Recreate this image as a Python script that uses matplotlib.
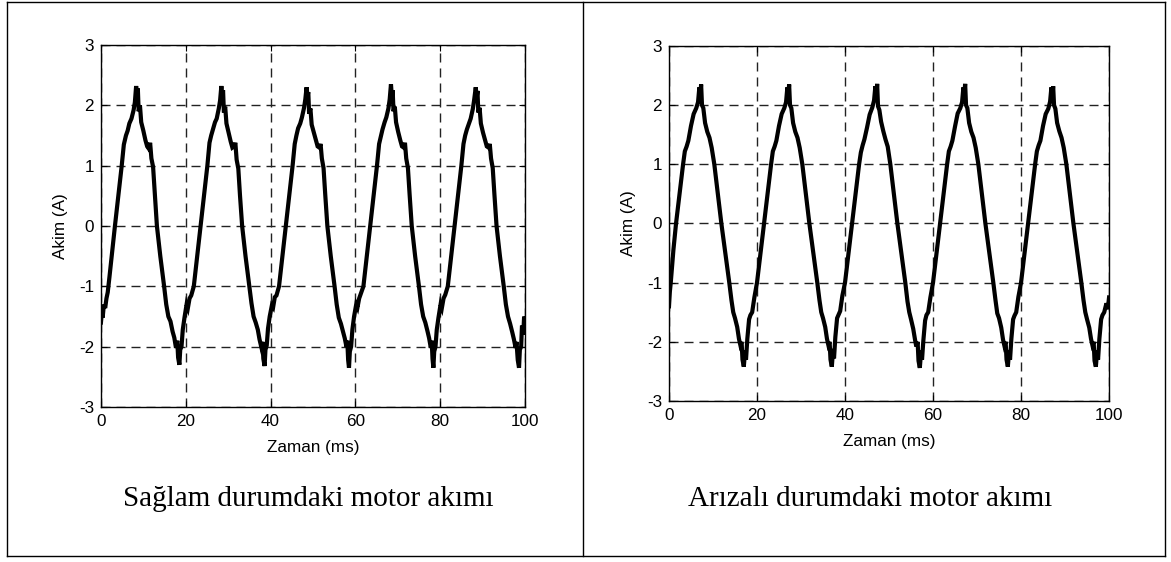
# Sağlam ve arızalı durumdaki motor akımı (iki panel, tablo görünümünde)
import matplotlib.pyplot as plt
from matplotlib.lines import Line2D

# --- veriler (resimden okunan yaklaşık değerler) ---
# Sağlam durum: zaman (ms) ve akım (A)
t_saglam = [
    0.0, 0.2, 0.4, 0.7, 1.0, 1.3, 1.6, 2.0, 2.6, 3.3, 4.1, 4.9, 5.4, 5.9, 6.3, 6.7, 7.2, 7.7, 8.0, 8.3,
    8.5, 8.7, 8.9, 9.2, 9.5, 10.0, 10.5, 10.9, 11.3, 11.6, 11.9, 12.3, 12.7, 13.2, 14.0, 14.9, 15.4, 15.9,
    16.4, 16.9, 17.3, 17.7, 18.0, 18.2, 18.5, 18.7, 19.0, 19.3, 19.7, 20.2, 20.5, 20.9, 21.3, 21.9, 22.7,
    23.5, 24.3, 25.1, 25.6, 26.0, 26.4, 26.9, 27.3, 27.8, 28.1, 28.4, 28.6, 28.8, 29.0, 29.3, 29.6, 30.1,
    30.6, 31.0, 31.4, 31.7, 32.0, 32.4, 32.8, 33.3, 34.1, 35.0, 35.5, 36.0, 36.5, 37.0, 37.4, 37.8, 38.1,
    38.3, 38.6, 38.8, 39.1, 39.4, 39.8, 40.3, 40.6, 41.0, 41.4, 42.0, 42.8, 43.6, 44.4, 45.2, 45.7, 46.1,
    46.5, 47.0, 47.4, 47.9, 48.2, 48.5, 48.7, 48.9, 49.1, 49.4, 49.7, 50.2, 50.7, 51.1, 51.5, 51.8, 52.1,
    52.5, 52.9, 53.4, 54.2, 55.1, 55.6, 56.1, 56.6, 57.1, 57.5, 57.9, 58.1, 58.3, 58.5, 58.7, 59.0, 59.3,
    59.7, 60.2, 60.5, 60.9, 61.3, 61.9, 62.7, 63.5, 64.3, 65.1, 65.6, 66.0, 66.4, 66.9, 67.3, 67.8, 68.1,
    68.4, 68.6, 68.8, 69.0, 69.3, 69.6, 70.1, 70.6, 71.0, 71.4, 71.7, 72.0, 72.4, 72.8, 73.3, 74.1, 75.0,
    75.5, 76.0, 76.5, 77.0, 77.4, 77.8, 78.0, 78.2, 78.4, 78.6, 78.9, 79.2, 79.6, 80.1, 80.4, 80.8, 81.2,
    81.8, 82.6, 83.4, 84.2, 85.0, 85.5, 85.9, 86.3, 86.8, 87.2, 87.7, 88.0, 88.4, 88.6, 88.8, 89.0, 89.3,
    89.6, 90.1, 90.6, 91.0, 91.4, 91.7, 92.0, 92.4, 92.8, 93.3, 94.1, 95.0, 95.5, 96.0, 96.5, 97.0, 97.4,
    97.8, 98.0, 98.3, 98.6, 98.8, 99.1, 99.3, 99.6, 99.8, 100.0]
i_saglam = [
    -1.60, -1.45, -1.52, -1.30, -1.36, -1.20, -1.10, -0.85, -0.45, 0.00, 0.50, 1.00, 1.35, 1.50, 1.58, 1.70,
    1.78, 1.92, 2.05, 2.32, 2.15, 2.28, 1.90, 2.00, 1.72, 1.58, 1.42, 1.32, 1.28, 1.38, 1.12, 0.98, 0.55,
    0.00, -0.50, -1.00, -1.30, -1.50, -1.58, -1.75, -1.85, -2.02, -1.90, -2.18, -2.30, -2.05, -2.00, -1.72,
    -1.52, -1.30, -1.36, -1.20, -1.15, -1.00, -0.50, 0.00, 0.50, 1.00, 1.38, 1.50, 1.60, 1.72, 1.78, 1.95,
    2.08, 2.32, 2.12, 2.25, 1.88, 1.98, 1.70, 1.55, 1.40, 1.30, 1.32, 1.38, 1.10, 0.95, 0.50, 0.00, -0.50,
    -1.00, -1.28, -1.50, -1.60, -1.72, -1.88, -2.00, -1.92, -2.20, -2.32, -2.05, -1.98, -1.70, -1.50, -1.32,
    -1.35, -1.18, -1.15, -1.00, -0.50, 0.00, 0.50, 1.00, 1.36, 1.50, 1.62, 1.70, 1.80, 1.96, 2.10, 2.30,
    2.15, 2.22, 1.86, 1.95, 1.68, 1.55, 1.42, 1.32, 1.30, 1.36, 1.12, 0.96, 0.52, 0.00, -0.50, -1.00, -1.30,
    -1.52, -1.62, -1.75, -1.86, -2.00, -1.90, -2.22, -2.35, -2.08, -2.00, -1.72, -1.50, -1.30, -1.35, -1.20,
    -1.12, -1.00, -0.50, 0.00, 0.50, 1.00, 1.36, 1.48, 1.60, 1.72, 1.80, 1.95, 2.10, 2.35, 2.15, 2.25, 1.90,
    1.98, 1.72, 1.56, 1.42, 1.32, 1.30, 1.38, 1.12, 0.96, 0.52, 0.00, -0.50, -1.00, -1.30, -1.50, -1.60,
    -1.74, -1.86, -2.02, -1.90, -2.20, -2.35, -2.08, -2.00, -1.72, -1.52, -1.30, -1.36, -1.20, -1.14, -1.00,
    -0.50, 0.00, 0.50, 1.00, 1.36, 1.50, 1.60, 1.70, 1.78, 1.94, 2.08, 2.30, 2.12, 2.24, 1.88, 1.96, 1.70,
    1.55, 1.42, 1.32, 1.30, 1.36, 1.12, 0.96, 0.52, 0.00, -0.50, -1.00, -1.30, -1.50, -1.62, -1.76, -1.88,
    -2.02, -1.92, -2.22, -2.35, -2.05, -2.00, -1.65, -1.80, -1.50, -1.55]

# Arızalı durum: zaman (ms) ve akım (A)
t_arizali = [
    0.0, 0.2, 0.4, 1.0, 1.6, 2.4, 3.2, 3.6, 4.0, 4.4, 5.0, 5.6, 6.2, 6.6, 6.9, 7.1, 7.3, 7.5, 7.8, 8.2,
    8.7, 9.2, 9.7, 10.3, 11.1, 11.9, 12.8, 13.7, 14.2, 14.6, 15.0, 15.5, 15.9, 16.2, 16.5, 16.7, 17.0,
    17.3, 17.5, 17.8, 18.2, 18.5, 18.9, 19.4, 20.0, 20.8, 21.6, 22.4, 23.2, 23.6, 24.0, 24.4, 25.0, 25.6,
    26.2, 26.6, 26.9, 27.1, 27.3, 27.5, 27.8, 28.2, 28.7, 29.2, 29.7, 30.3, 31.1, 31.9, 32.8, 33.7, 34.2,
    34.6, 35.0, 35.5, 35.9, 36.2, 36.5, 36.7, 37.0,
    37.3, 37.5, 37.8, 38.2, 38.5, 38.9, 39.4, 40.0, 40.8, 41.6, 42.4, 43.2, 43.6, 44.0, 44.4, 45.0, 45.6,
    46.2, 46.6, 46.9, 47.1, 47.3, 47.5, 47.8, 48.2, 48.7, 49.2, 49.7, 50.3, 51.1, 51.9, 52.8, 53.7, 54.2,
    54.6, 55.0, 55.5, 55.9, 56.2, 56.5, 56.7, 57.0,
    57.3, 57.5, 57.8, 58.2, 58.5, 58.9, 59.4, 60.0, 60.8, 61.6, 62.4, 63.2, 63.6, 64.0, 64.4, 65.0, 65.6,
    66.2, 66.6, 66.9, 67.1, 67.3, 67.5, 67.8, 68.2, 68.7, 69.2, 69.7, 70.3, 71.1, 71.9, 72.8, 73.7, 74.2,
    74.6, 75.0, 75.5, 75.9, 76.2, 76.5, 76.7, 77.0,
    77.3, 77.5, 77.8, 78.2, 78.5, 78.9, 79.4, 80.0, 80.8, 81.6, 82.4, 83.2, 83.6, 84.0, 84.4, 85.0, 85.6,
    86.2, 86.6, 86.9, 87.1, 87.3, 87.5, 87.8, 88.2, 88.7, 89.2, 89.7, 90.3, 91.1, 91.9, 92.8, 93.7, 94.2,
    94.6, 95.0, 95.5, 95.9, 96.2, 96.5, 96.7, 97.0,
    97.3, 97.5, 97.8, 98.2, 98.5, 98.9, 99.4, 99.7, 100.0]
i_arizali = [
    -1.40, -1.15, -1.00, -0.45, 0.00, 0.50, 1.00, 1.22, 1.30, 1.40, 1.65, 1.85, 1.95, 2.05, 2.30, 2.15,
    2.35, 2.00, 1.95, 1.70, 1.55, 1.45, 1.28, 1.00, 0.50, 0.00, -0.50, -1.00, -1.30, -1.50, -1.60, -1.75,
    -1.95, -2.05, -2.00, -2.30, -2.42,
    -2.15, -2.30, -1.95, -1.62, -1.55, -1.50, -1.25, -1.00, -0.50, 0.00, 0.50, 1.00, 1.22, 1.30, 1.40,
    1.65, 1.85, 1.95, 2.05, 2.30, 2.15, 2.35, 2.00, 1.95, 1.70, 1.55, 1.45, 1.28, 1.00, 0.50, 0.00, -0.50,
    -1.00, -1.30, -1.50, -1.60, -1.75, -1.95, -2.05, -2.00, -2.30, -2.42,
    -2.12, -2.28, -1.92, -1.60, -1.55, -1.48, -1.22, -1.00, -0.50, 0.00, 0.50, 1.00, 1.20, 1.32, 1.42,
    1.62, 1.84, 1.96, 2.08, 2.32, 2.12, 2.36, 1.98, 1.92, 1.72, 1.56, 1.42, 1.30, 1.00, 0.50, 0.00, -0.50,
    -1.00, -1.32, -1.50, -1.62, -1.78, -1.96, -2.08, -2.00, -2.32, -2.44,
    -2.15, -2.30, -1.98, -1.64, -1.55, -1.50, -1.25, -1.00, -0.50, 0.00, 0.50, 1.00, 1.22, 1.30, 1.40,
    1.64, 1.86, 1.95, 2.05, 2.30, 2.18, 2.36, 2.00, 1.95, 1.70, 1.55, 1.45, 1.28, 1.00, 0.50, 0.00, -0.50,
    -1.00, -1.30, -1.52, -1.60, -1.76, -1.96, -2.06, -2.00, -2.30, -2.42,
    -2.14, -2.30, -1.95, -1.62, -1.56, -1.50, -1.24, -1.00, -0.50, 0.00, 0.50, 1.00, 1.22, 1.32, 1.40,
    1.65, 1.85, 1.94, 2.06, 2.30, 2.15, 2.32, 2.00, 1.94, 1.70, 1.56, 1.45, 1.28, 1.00, 0.50, 0.00, -0.50,
    -1.00, -1.30, -1.50, -1.62, -1.76, -1.95, -2.05, -2.00, -2.32, -2.42,
    -2.15, -2.30, -1.95, -1.62, -1.55, -1.50, -1.35, -1.45, -1.25]

xticks = [0, 20, 40, 60, 80, 100]
yticks = [-3, -2, -1, 0, 1, 2, 3]
captions = ['Sağlam durumdaki motor akımı', 'Arızalı durumdaki motor akımı']

plt.rcParams['font.family'] = ['Liberation Sans', 'DejaVu Sans']
plt.rcParams['axes.unicode_minus'] = False

fig = plt.figure(figsize=(11.71, 5.62), dpi=100)

# eksen konumları (sol, alt, genişlik, yükseklik)
ax1 = fig.add_axes([0.0862, 0.2758, 0.3621, 0.6441])
ax2 = fig.add_axes([0.5713, 0.2865, 0.3758, 0.6317])

for ax, t, i in [(ax1, t_saglam, i_saglam), (ax2, t_arizali, i_arizali)]:
    ax.plot(t, i, color='black', linewidth=3.0, solid_joinstyle='miter')
    ax.set_xlim(0, 100)
    ax.set_ylim(-3, 3)
    ax.set_xticks(xticks)
    ax.set_yticks(yticks)
    ax.grid(True, color='#222222', linestyle=(0, (6.5, 4.3)), linewidth=1.0)
    ax.tick_params(direction='in', top=True, right=True, length=4, labelsize=12.3, pad=5)
    for sp in ax.spines.values():
        sp.set_linewidth(1.0)
    ax.set_xlabel('Zaman (ms)', fontsize=12.3, labelpad=8)
    ax.set_ylabel('Akim (A)', fontsize=12.3, labelpad=8)

# tablo çizgileri
x0, x1, xm = 7 / 1171, 1165 / 1171, 583 / 1171
y0, y1 = 1 - 556 / 562, 1 - 2 / 562
for xs, ys in [([x0, x1], [y1, y1]), ([x0, x1], [y0, y0]), ([x0, x0], [y0, y1]),
               ([x1, x1], [y0, y1]), ([xm, xm], [y0, y1])]:
    fig.add_artist(Line2D(xs, ys, color='black', linewidth=1.0, transform=fig.transFigure))

fig.text(308 / 1171, 1 - 499 / 562, captions[0], ha='center', va='center',
         fontsize=21, family='Liberation Serif')
fig.text(870 / 1171, 1 - 499 / 562, captions[1], ha='center', va='center',
         fontsize=21, family='Liberation Serif')

fig.savefig('out.png', dpi=100)
